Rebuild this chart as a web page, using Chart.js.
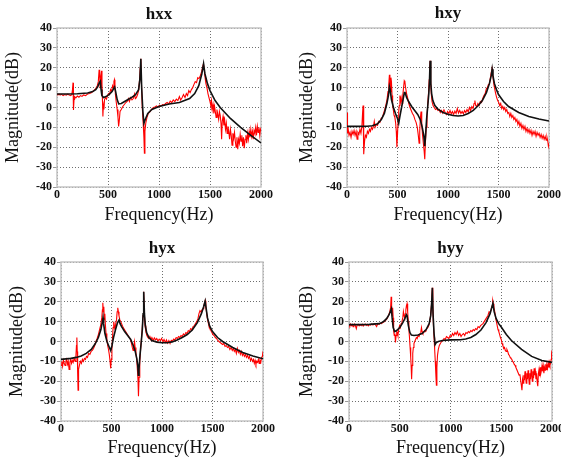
<!DOCTYPE html>
<html>
<head>
<meta charset="utf-8">
<script src="https://cdn.jsdelivr.net/npm/chart.js@4.4.1/dist/chart.umd.min.js"></script>
<style>
body { margin: 0; background: #fff; overflow: hidden; }
#wrap { position: relative; width: 561px; height: 461px; }
canvas { position: absolute; }
</style>
</head>
<body>
<div id="wrap">
  <canvas id="c-hxx" width="280" height="230" style="left:0;top:0"></canvas>
  <canvas id="c-hxy" width="281" height="230" style="left:280px;top:0"></canvas>
  <canvas id="c-hyx" width="280" height="231" style="left:0;top:230px"></canvas>
  <canvas id="c-hyy" width="281" height="231" style="left:280px;top:230px"></canvas>
</div>
<script>
// [frequency Hz, magnitude dB]
const freqTicks = [0, 500, 1000, 1500, 2000];
const dbTicks = [-40, -30, -20, -10, 0, 10, 20, 30, 40];

const hxxMeasured = [[0,6.5],[10,6.3],[20,6.8],[30,6.2],[45,6.6],[60,6.0],[75,6.5],[90,6.2],[105,6.7],[120,6.3],[135,6.0],[145,6.5],[152,9],[157,12.5],[160,5],[163,-1.2],[167,4],[172,5.5],[185,4.8],[200,5.8],[215,5.2],[230,6.0],[245,5.6],[260,6.3],[280,6.0],[300,6.8],[320,7.0],[340,7.5],[360,8.5],[380,9.5],[395,11],[405,13],[413,19],[418,17],[423,10],[430,16],[436,18.5],[441,12],[446,3],[450,-4.5],[455,2],[460,-1],[466,4],[475,5],[485,4.2],[495,6],[505,7],[515,6.5],[525,9],[535,8],[545,11],[552,10],[558,13],[563,14],[568,12],[572,7],[580,3],[590,-1],[598,-5],[604,-9.5],[610,-7],[618,-2],[630,-1],[645,0.5],[660,1.5],[675,2.5],[690,3.2],[700,4.5],[710,3],[722,5],[735,3.8],[748,4.5],[760,6.8],[768,4.5],[778,5],[790,6.5],[800,8.5],[810,14],[816,20],[822,24.5],[828,12],[836,0],[845,-8],[852,-15],[857,-23],[862,-12],[870,-8],[882,-5],[895,-3],[910,-2.2],[925,-1],[945,0],[960,0.3],[975,0.8],[990,0.2],[1005,1.2],[1020,0.8],[1035,1.5],[1050,1.2],[1065,2],[1080,2.5],[1095,1.8],[1110,3.2],[1125,2.5],[1140,3.8],[1155,3],[1170,4.2],[1185,3.5],[1200,5.5],[1212,3.8],[1225,4.8],[1240,6.5],[1255,5],[1268,7],[1280,6],[1292,8.5],[1305,7.5],[1318,9],[1330,10],[1342,11.5],[1355,13],[1368,12.5],[1380,15],[1392,14.5],[1405,16],[1418,18],[1428,20.5],[1436,22],[1444,19],[1452,15],[1460,12],[1470,10],[1480,7],[1490,5],[1500,3],[1508,1],[1515,3.5],[1522,-1],[1530,1.5],[1538,-3],[1545,0.5],[1552,-2],[1560,-5],[1568,-1],[1576,-3.5],[1585,-6],[1592,-2],[1600,-4],[1608,-8],[1614,-16],[1620,-7],[1628,-4.5],[1636,-9],[1644,-6.5],[1652,-11],[1660,-8],[1668,-13],[1676,-9.5],[1684,-12],[1692,-16],[1700,-11],[1708,-14],[1716,-19],[1724,-13],[1732,-15.5],[1740,-12.5],[1748,-17],[1756,-20],[1764,-15],[1772,-21],[1780,-16],[1788,-18],[1796,-13.5],[1804,-17],[1812,-14],[1820,-19.5],[1828,-15],[1836,-20.5],[1844,-16],[1852,-14],[1860,-18],[1868,-13],[1876,-16],[1884,-12],[1892,-15],[1900,-11],[1908,-14.5],[1916,-12],[1924,-16],[1932,-11.5],[1940,-13],[1948,-10],[1956,-14],[1964,-9.5],[1972,-12.5],[1980,-10],[1988,-14],[1995,-11],[2000,-12]];
const hxxFitted = [[0,6.8],[100,6.8],[200,6.9],[300,7.3],[350,8.0],[380,9.0],[400,10.5],[415,12.5],[425,13.2],[432,9],[440,6],[455,5.0],[480,5.5],[510,6.5],[540,8],[555,9.5],[565,10.3],[575,8],[590,4],[605,1.8],[630,2.0],[680,3.5],[730,5],[770,6.5],[800,9],[812,14],[822,24.5],[830,10],[842,-2],[852,-8],[865,-6],[890,-3],[930,-1],[1000,0.5],[1100,1.8],[1200,2.5],[1300,4.5],[1350,7],[1390,11],[1420,17],[1437,22],[1450,17],[1475,12],[1500,8.5],[1550,3.5],[1600,0],[1700,-5.5],[1800,-10],[1900,-14],[2000,-17.8]];

const hxyMeasured = [[0,-2.5],[5,-13],[12,-11],[20,-14],[30,-12.5],[40,-15],[50,-12],[60,-13.5],[70,-11.5],[80,-14],[90,-12],[100,-16],[108,-12.5],[118,-13.5],[128,-11],[138,-13],[148,-9],[155,-2],[159,1],[163,-8],[168,-23.5],[174,-17],[182,-14],[192,-15],[202,-12],[212,-13],[222,-11],[232,-12],[242,-10],[252,-11],[262,-9.5],[270,-7],[278,-10],[290,-8.5],[302,-9],[314,-7],[326,-7.5],[338,-5.5],[350,-5],[362,-3],[374,-1],[386,1.5],[396,4],[406,8],[414,12],[420,16.5],[425,12],[430,8],[435,15],[440,13],[446,6],[452,1],[458,-1],[466,-4],[474,-5],[482,-8],[488,-12],[494,-20],[500,-14],[506,-6],[512,-2],[518,1],[524,6],[530,3],[536,5],[545,2],[552,6],[560,10],[567,13.5],[573,13],[580,10],[590,7],[600,5],[612,2],[624,0],[636,-1.5],[648,-3],[660,-4],[672,-6],[684,-7.5],[696,-10],[706,-14],[714,-18],[720,-12],[727,-5],[733,-2],[740,-8],[748,-14],[756,-18],[764,-22],[770,-26],[776,-18],[784,-10],[792,-4],[800,2],[808,8],[814,14],[818,19],[823,23.5],[828,14],[834,7],[842,3],[852,1],[864,0],[876,-1],[888,-0.5],[900,-1.5],[912,-1],[924,-2.5],[936,-1.5],[948,-2.8],[960,-1.2],[972,-2.5],[984,-3.5],[996,-2],[1008,-3],[1020,-1.5],[1032,-3.2],[1044,-2],[1056,-3.5],[1068,-1.8],[1080,-3],[1092,-0.5],[1104,-2.8],[1116,-1.5],[1128,-3],[1140,-2],[1152,-3.2],[1164,-1.5],[1176,-2.5],[1188,-1],[1200,-2.2],[1212,0],[1224,-1.5],[1236,0.5],[1248,-0.5],[1258,2],[1266,3.5],[1274,1],[1284,0.5],[1296,2],[1308,1],[1320,3],[1332,2.5],[1344,4.5],[1356,6],[1368,7],[1380,9.5],[1390,10],[1400,11.5],[1410,12],[1420,15],[1428,17.5],[1436,19.5],[1442,17],[1448,14],[1456,11],[1464,9],[1472,7],[1482,5],[1492,3.5],[1502,2.5],[1512,1],[1522,2],[1532,-0.5],[1542,0.5],[1552,-1],[1562,0],[1572,-2],[1582,-1],[1592,-3],[1602,-2.5],[1612,-4.5],[1622,-3],[1632,-5],[1642,-4],[1652,-6],[1662,-5],[1672,-7],[1682,-6],[1692,-8.5],[1702,-7],[1712,-9.5],[1722,-8],[1732,-10.5],[1742,-9],[1752,-11],[1762,-9.5],[1772,-12],[1782,-10.5],[1792,-12.5],[1802,-11],[1812,-13],[1822,-11.5],[1832,-14],[1842,-12],[1852,-13.5],[1862,-12],[1872,-14.5],[1882,-12.5],[1892,-14],[1902,-13],[1912,-15],[1922,-13.5],[1932,-15.5],[1942,-14],[1952,-16],[1962,-14.5],[1972,-16.5],[1980,-15],[1988,-17],[1994,-19.5],[2000,-18]];
const hxyFitted = [[0,-9.5],[100,-9.5],[200,-9.4],[250,-9.2],[300,-8.3],[340,-6],[370,-3],[395,2],[410,6],[420,10.5],[427,9],[440,4],[460,0],[480,-3],[500,-5.5],[512,-8],[522,-5],[540,0],[555,4],[568,7.5],[575,7.5],[590,5],[610,3],[640,0.5],[670,-1.5],[700,-3.5],[725,-6],[745,-10],[760,-14],[770,-19.5],[778,-14],[788,-6],[800,1],[810,7],[817,14],[823,23.5],[830,12],[838,7],[850,3.5],[870,1],[900,-0.8],[950,-2.5],[1000,-3.4],[1050,-4],[1100,-4.3],[1150,-4],[1200,-3],[1250,-1.5],[1300,1],[1340,3.5],[1380,7.5],[1410,12],[1428,16],[1437,19.3],[1445,16],[1460,12],[1480,9],[1500,6.5],[1550,3],[1600,0.5],[1700,-2.5],[1800,-4.5],[1900,-5.8],[2000,-6.8]];

const hyxMeasured = [[0,-12],[8,-10],[16,-12.5],[24,-9.5],[32,-11],[40,-12],[48,-10],[56,-9],[64,-11.5],[72,-10],[80,-14],[88,-10.5],[96,-9],[104,-11],[112,-9.5],[120,-10.5],[130,-8.5],[140,-10],[148,-7],[153,-2],[157,2],[161,-5],[165,-16],[169,-24.5],[174,-14],[182,-12],[192,-10],[202,-11],[212,-9],[222,-10],[232,-8.5],[242,-9],[252,-7.5],[262,-8],[274,-6],[286,-6.5],[298,-5],[310,-4.5],[322,-3.5],[334,-2],[346,0],[358,1.5],[370,3.5],[382,6],[394,8.5],[404,12],[410,16],[414,19.5],[419,15],[424,17.5],[429,11],[434,14],[440,8],[446,4],[454,1],[462,-2],[470,-4],[478,-6.5],[486,-10],[492,-13.5],[498,-9],[504,-4],[510,2],[516,7],[522,10],[528,8],[534,6],[542,9],[550,11],[556,15],[562,17],[568,15],[574,13],[582,11],[592,10],[604,8.5],[616,7],[628,6],[640,5],[652,4],[664,3],[676,2],[688,1],[698,-1],[706,-3],[714,-4.5],[722,-2],[728,0],[734,-3],[742,-6],[750,-9],[756,-14],[762,-19],[767,-27.5],[773,-18],[780,-10],[788,-4],[796,1],[804,6],[812,13],[818,25],[825,14],[832,8],[840,5],[850,3],[860,2],[870,1.5],[880,2.5],[890,1],[900,2],[912,0.5],[924,1.8],[936,0.8],[948,1.5],[960,0.2],[972,1.2],[984,0.5],[996,1.5],[1008,0],[1020,1],[1032,-0.5],[1044,0.8],[1056,-0.8],[1068,0.5],[1080,-1],[1092,0.6],[1104,0.2],[1116,1.2],[1128,0.8],[1140,2],[1152,1.5],[1164,2.5],[1176,2],[1188,3],[1200,2.5],[1212,3.8],[1224,3.2],[1236,4.5],[1248,4],[1260,5.5],[1272,5],[1284,6.5],[1296,6],[1308,7.5],[1320,8],[1332,9],[1344,10],[1356,11.5],[1366,14],[1376,15.5],[1386,14.8],[1396,16],[1406,16.5],[1414,18],[1422,19.5],[1428,20.5],[1434,18],[1440,15],[1448,12],[1456,10],[1464,8],[1474,7],[1484,5.5],[1494,4.5],[1504,3.5],[1516,3],[1528,2],[1540,1.5],[1552,0.5],[1564,0],[1576,-0.5],[1588,-1],[1600,-1.5],[1612,-1],[1624,-2.5],[1636,-2],[1648,-3],[1660,-2.5],[1672,-4],[1684,-3],[1696,-4.5],[1706,-3.5],[1716,-5],[1726,-4],[1736,-6],[1746,-3.5],[1756,-5.5],[1766,-4.5],[1776,-6.5],[1786,-5],[1796,-7],[1806,-6],[1816,-7.5],[1826,-6.5],[1836,-8],[1846,-7],[1856,-8.5],[1866,-7.5],[1876,-9.5],[1886,-8.5],[1896,-10],[1906,-9],[1914,-11],[1922,-9.5],[1930,-11.5],[1938,-10],[1946,-10.5],[1954,-9],[1962,-11],[1970,-9.5],[1978,-10.5],[1986,-8],[1994,-7.5],[2000,-5]];
const hyxFitted = [[0,-9],[100,-8.5],[150,-8],[200,-7.3],[250,-6],[300,-4],[340,-1],[370,2],[395,6],[410,10],[416,12],[422,9],[435,4],[455,0],[475,-2.5],[492,-4.5],[505,-2],[520,2],[540,6],[560,9.5],[575,10.8],[585,9],[600,7.5],[630,5],[660,3],[690,1],[715,-2],[735,-5],[750,-8.5],[760,-12],[766,-17],[772,-14],[782,-7],[795,0],[805,6],[813,14],[819,25],[826,14],[835,8],[848,4.5],[870,2],[900,0.5],[950,-0.3],[1000,-0.6],[1050,-0.6],[1100,-0.2],[1150,0.8],[1200,2],[1250,3.5],[1300,5.8],[1350,9.5],[1390,14],[1412,17.5],[1427,20.3],[1436,17],[1450,12],[1470,8],[1500,5],[1550,2],[1600,0],[1700,-3],[1800,-5.5],[1900,-7.3],[2000,-8.7]];

const hyyMeasured = [[0,8.5],[8,7.8],[16,8.8],[24,8],[32,8.6],[40,7.5],[48,8.3],[56,8.8],[64,7.8],[72,6.5],[80,8.2],[90,8.6],[100,7.9],[110,8.5],[120,8],[130,8.7],[140,7.8],[150,8.4],[160,8.8],[170,8.1],[180,8.6],[190,7.9],[200,8.5],[212,8.2],[224,8.8],[236,8.3],[248,8.9],[260,8.4],[272,7.5],[284,9],[296,8.6],[308,9.2],[320,9],[332,9.5],[344,9.8],[356,10.5],[368,11],[380,12],[392,13.5],[402,15],[410,17],[415,22.5],[420,15],[425,13],[430,17],[435,12],[440,5],[446,3],[452,4],[458,-0.5],[464,3],[470,5],[476,4.5],[482,3],[490,6],[498,8],[506,7],[514,9],[522,10],[530,12],[536,15],[542,13],[548,12],[554,14],[560,16],[566,18],[572,19],[578,15],[584,10],[590,6],[596,2],[602,-3],[608,-8],[612,-12],[617,-19],[622,-12],[628,-6],[634,-3],[640,-1],[648,0],[656,1],[664,2],[672,1.5],[680,3],[690,2.5],[700,4],[708,5],[714,7],[720,5],[728,4],[736,4.5],[746,5.5],[756,5],[766,6.5],[776,7],[786,8],[796,10],[804,13],[812,18],[817,23],[821,27],[826,18],[832,8],[838,2],[844,-4],[850,-10],[856,-17],[861,-22],[866,-13],[872,-7],[880,-4],[890,-2],[900,-1],[912,0],[924,0.5],[936,1.5],[948,1],[960,2.5],[972,2],[984,1.5],[996,3],[1008,2.5],[1020,4],[1032,3],[1044,4.5],[1056,3.5],[1068,5],[1080,3],[1092,4],[1104,2.5],[1116,3.5],[1128,4],[1140,3],[1152,4.5],[1164,4],[1176,5],[1188,4.5],[1200,5.5],[1212,5],[1224,6],[1236,5.5],[1248,6.5],[1260,6],[1272,7.5],[1284,7],[1296,8],[1308,8.5],[1320,9],[1332,10],[1344,11],[1356,12],[1368,13],[1380,15],[1390,14.5],[1400,16],[1410,18],[1416,20.5],[1422,19],[1428,17],[1436,15],[1444,12],[1452,10],[1460,8],[1468,6],[1476,5],[1484,3.5],[1492,2],[1500,1],[1508,-1],[1516,-2],[1524,-3.5],[1532,-3],[1540,-4.5],[1548,-5],[1556,-4],[1564,-5],[1572,-6.5],[1580,-7],[1588,-8],[1596,-8.5],[1604,-9],[1612,-10],[1620,-10.5],[1628,-11.5],[1636,-12],[1644,-13],[1652,-14],[1660,-15],[1668,-16],[1676,-17],[1684,-16.5],[1692,-20],[1698,-22],[1704,-24.5],[1710,-19],[1716,-21],[1722,-17],[1728,-19.5],[1734,-15],[1740,-18],[1746,-21],[1752,-16],[1758,-19],[1764,-14.5],[1770,-18],[1776,-21.5],[1782,-16],[1788,-19],[1794,-14],[1800,-17],[1806,-20],[1812,-15],[1818,-18.5],[1824,-13.5],[1830,-17],[1836,-15],[1842,-19],[1848,-16],[1854,-20.5],[1860,-22.5],[1866,-16],[1872,-14],[1878,-17.5],[1884,-13],[1890,-16],[1896,-14.5],[1902,-12],[1908,-15],[1914,-12.5],[1920,-16],[1926,-13],[1932,-14.5],[1938,-11.5],[1944,-14],[1950,-12],[1956,-13.5],[1962,-11],[1968,-13],[1974,-10.5],[1980,-12],[1986,-11],[1992,-9],[1996,-6],[2000,-4.5]];
const hyyFitted = [[0,8.5],[100,8.5],[200,8.6],[300,9],[340,10],[370,11.5],[395,13.5],[410,15.5],[418,16.5],[425,12],[435,7],[450,5],[470,5.5],[500,7],[530,9.5],[550,11.5],[565,13.5],[572,13],[585,8],[600,4.5],[615,3.2],[640,3],[680,3.3],[720,4],[760,6],[790,9],[805,13],[815,20],[821,27],[828,14],[838,4],[848,-1.5],[860,-0.5],[880,0],[920,0.5],[1000,0.8],[1100,0.9],[1150,1.3],[1200,2],[1250,3.5],[1300,5.8],[1350,9.5],[1390,14],[1418,19.3],[1430,15],[1450,11.5],[1475,9],[1500,7.3],[1550,3.5],[1600,0.5],[1700,-4],[1800,-7.5],[1900,-9.6],[2000,-10.5]];

const serif = '"Liberation Serif", "Times New Roman", serif';

// light grey box round the plot area
const frame = {
    id: 'frame',
    beforeDatasetsDraw(chart) {
        const a = chart.chartArea;
        const ctx = chart.ctx;
        ctx.save();
        ctx.strokeStyle = '#c4c4c4';
        ctx.lineWidth = 1.5;
        ctx.strokeRect(a.left, a.top, a.right - a.left, a.bottom - a.top);
        ctx.restore();
    }
};

function toPoints(arr) {
    return arr.map(p => ({ x: p[0], y: p[1] }));
}

function makeChart(id, title, measured, fitted, box) {
    const canvas = document.getElementById(id);
    const H = canvas.height;
    const tickFont = { family: serif, size: 12, weight: 'bold' };

    return new Chart(canvas.getContext('2d'), {
        type: 'line',
        data: {
            datasets: [
                {
                    label: 'fitted',
                    data: toPoints(fitted),
                    borderColor: '#111111',
                    borderWidth: 1.6,
                    pointRadius: 0,
                    tension: 0,
                    order: 1
                },
                {
                    label: 'measured',
                    data: toPoints(measured),
                    borderColor: '#ff0000',
                    borderWidth: 1.1,
                    pointRadius: 0,
                    tension: 0,
                    order: 2
                }
            ]
        },
        options: {
            responsive: false,
            animation: false,
            layout: { padding: { left: 0, right: box.padRight, top: 0, bottom: 0 } },
            plugins: {
                legend: { display: false },
                tooltip: { enabled: false },
                title: {
                    display: true,
                    text: title,
                    fullSize: false,
                    color: '#111',
                    font: { family: serif, size: 17, weight: 'bold' },
                    padding: { top: box.titleTop, bottom: box.top - box.titleTop - 20.4 }
                }
            },
            scales: {
                x: {
                    type: 'linear',
                    min: 0,
                    max: 2000,
                    afterBuildTicks: s => { s.ticks = freqTicks.map(v => ({ value: v })); },
                    ticks: {
                        font: tickFont, color: '#111', padding: 1, maxRotation: 0, autoSkip: false,
                        callback: v => String(v)
                    },
                    grid: { color: '#6e6e6e', drawTicks: false },
                    border: { display: false, dash: [1, 2] },
                    title: {
                        display: true,
                        text: 'Frequency(Hz)',
                        color: '#111',
                        font: { family: serif, size: 18 },
                        padding: { top: 0, bottom: box.xTitlePad }
                    },
                    afterFit: s => {
                        s.height = H - box.bottom;
                        s.paddingLeft = 0;
                        s.paddingRight = 0;
                    }
                },
                y: {
                    min: -40,
                    max: 40,
                    afterBuildTicks: s => { s.ticks = dbTicks.map(v => ({ value: v })); },
                    ticks: { font: tickFont, color: '#111', padding: 1, callback: v => String(v) },
                    grid: { color: '#6e6e6e', tickLength: 4, tickColor: '#9a9a9a' },
                    border: { display: false, dash: [1, 2] },
                    title: {
                        display: true,
                        text: 'Magnitude(dB)',
                        color: '#111',
                        font: { family: serif, size: 18 },
                        padding: { top: box.yTitlePad, bottom: 0 }
                    },
                    afterFit: s => {
                        s.width = box.left;
                        s.paddingTop = 0;
                        s.paddingBottom = 0;
                    }
                }
            }
        },
        plugins: [frame]
    });
}

makeChart('c-hxx', 'hxx', hxxMeasured, hxxFitted,
    { left: 57, padRight: 19, top: 28, bottom: 187, titleTop: 4, yTitlePad: 2, xTitlePad: 4 });
makeChart('c-hxy', 'hxy', hxyMeasured, hxyFitted,
    { left: 67, padRight: 12, top: 28, bottom: 187, titleTop: 3.5, yTitlePad: 16, xTitlePad: 4 });
makeChart('c-hyx', 'hyx', hyxMeasured, hyxFitted,
    { left: 61, padRight: 17, top: 32, bottom: 191, titleTop: 8, yTitlePad: 6, xTitlePad: 2 });
makeChart('c-hyy', 'hyy', hyyMeasured, hyyFitted,
    { left: 69, padRight: 9, top: 32, bottom: 191, titleTop: 8, yTitlePad: 16, xTitlePad: 2 });
</script>
</body>
</html>
